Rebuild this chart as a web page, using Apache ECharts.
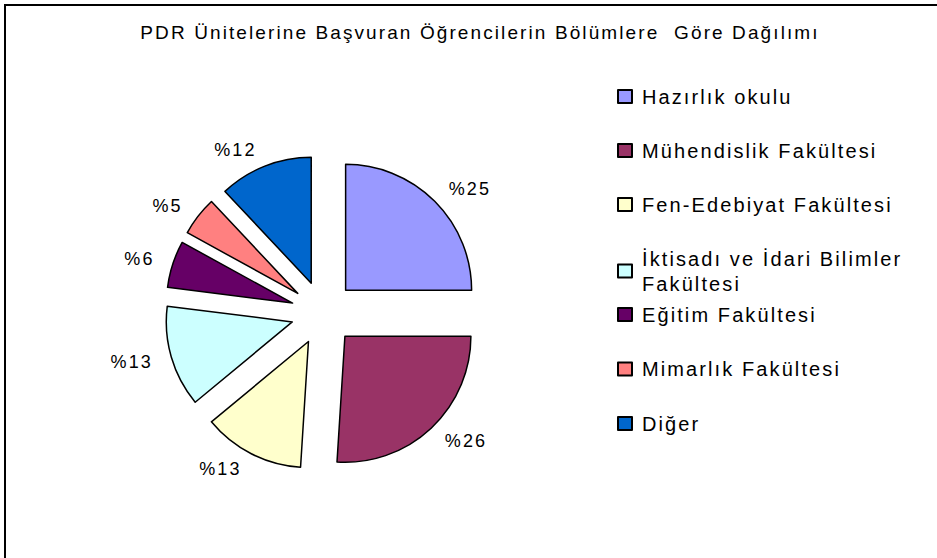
<!DOCTYPE html>
<html>
<head>
<meta charset="utf-8">
<script src="https://cdn.jsdelivr.net/npm/echarts@6/dist/echarts.min.js"></script>
<style>
    html, body { margin: 0; padding: 0; background: #fff; }
    #chart { width: 937px; height: 558px; }
    /* eski Excel grafiğindeki geniş harf aralığı */
    #chart text { letter-spacing: 2.1px; }
</style>
</head>
<body>
<div id="chart"></div>
<script>
// bölümler ve yüzdeler
const categories = [
    'Hazırlık okulu',
    'Mühendislik Fakültesi',
    'Fen-Edebiyat Fakültesi',
    'İktisadı ve İdari Bilimler Fakültesi',
    'Eğitim Fakültesi',
    'Mimarlık Fakültesi',
    'Diğer'
]
const shares = [25, 26, 13, 13, 6, 5, 12]

// klasik Excel paleti
const palette = ['#9999FF', '#993366', '#FFFFCC', '#CCFFFF', '#660066', '#FF8080', '#0066CC']

const FONT = '"Liberation Sans", Arial, sans-serif'
const LONG_NAME = 'İktisadı ve İdari Bilimler Fakültesi'

const chart = echarts.init(document.getElementById('chart'), null, { renderer: 'svg' })

const legendText = {
    color: '#000',
    fontFamily: FONT,
    fontSize: 20,
    lineHeight: 25,
    height: 25,
    padding: [0, 0, 8, 5]
}

function legendBox(names, top, gap) {
    return {
        orient: 'vertical',
        left: 612,
        top: top,
        itemGap: gap,
        itemWidth: 14,
        itemHeight: 13,
        icon: 'rect',
        selectedMode: false,
        // uzun ad iki satıra bölünür, ilk satır kutuyla aynı hizada kalsın
        data: names.map(n => n === LONG_NAME
            ? { name: n, textStyle: { lineHeight: 25, height: null, padding: [0, 0, 33, 5] } }
            : n),
        formatter: n => n === LONG_NAME ? 'İktisadı ve İdari Bilimler\nFakültesi' : n,
        textStyle: legendText
    }
}

const option = {
    animation: false,
    color: palette,
    title: {
        text: 'PDR Ünitelerine Başvuran Öğrencilerin Bölümlere  Göre Dağılımı',
        left: 475,
        top: 18,
        textAlign: 'center',
        textStyle: { color: '#000', fontFamily: FONT, fontSize: 19, fontWeight: 'normal' }
    },
    legend: [
        legendBox(categories.slice(0, 4), 75, 21),
        legendBox(categories.slice(4), 293, 21.5)
    ],
    graphic: [{
        type: 'polyline',
        shape: { points: [[5, 558], [5, 5], [937, 5]] },
        style: { stroke: '#000', lineWidth: 2, fill: null }
    }],
    series: [{
        type: 'pie',
        center: [323, 313],
        radius: 126,
        startAngle: 90,
        clockwise: true,
        selectedMode: 'multiple',
        selectedOffset: 32,
        avoidLabelOverlap: false,
        emphasis: { disabled: true },
        itemStyle: { borderColor: '#000', borderWidth: 1.5 },
        label: {
            show: true,
            position: 'outside',
            formatter: '%{c}',
            color: '#000',
            fontFamily: FONT,
            fontSize: 18,
            distanceToLabelLine: 2
        },
        labelLine: { show: false, length: 17, length2: 0 },
        data: categories.map((name, i) => ({ name: name, value: shares[i], selected: true }))
    }]
}

chart.setOption(option)
</script>
</body>
</html>
